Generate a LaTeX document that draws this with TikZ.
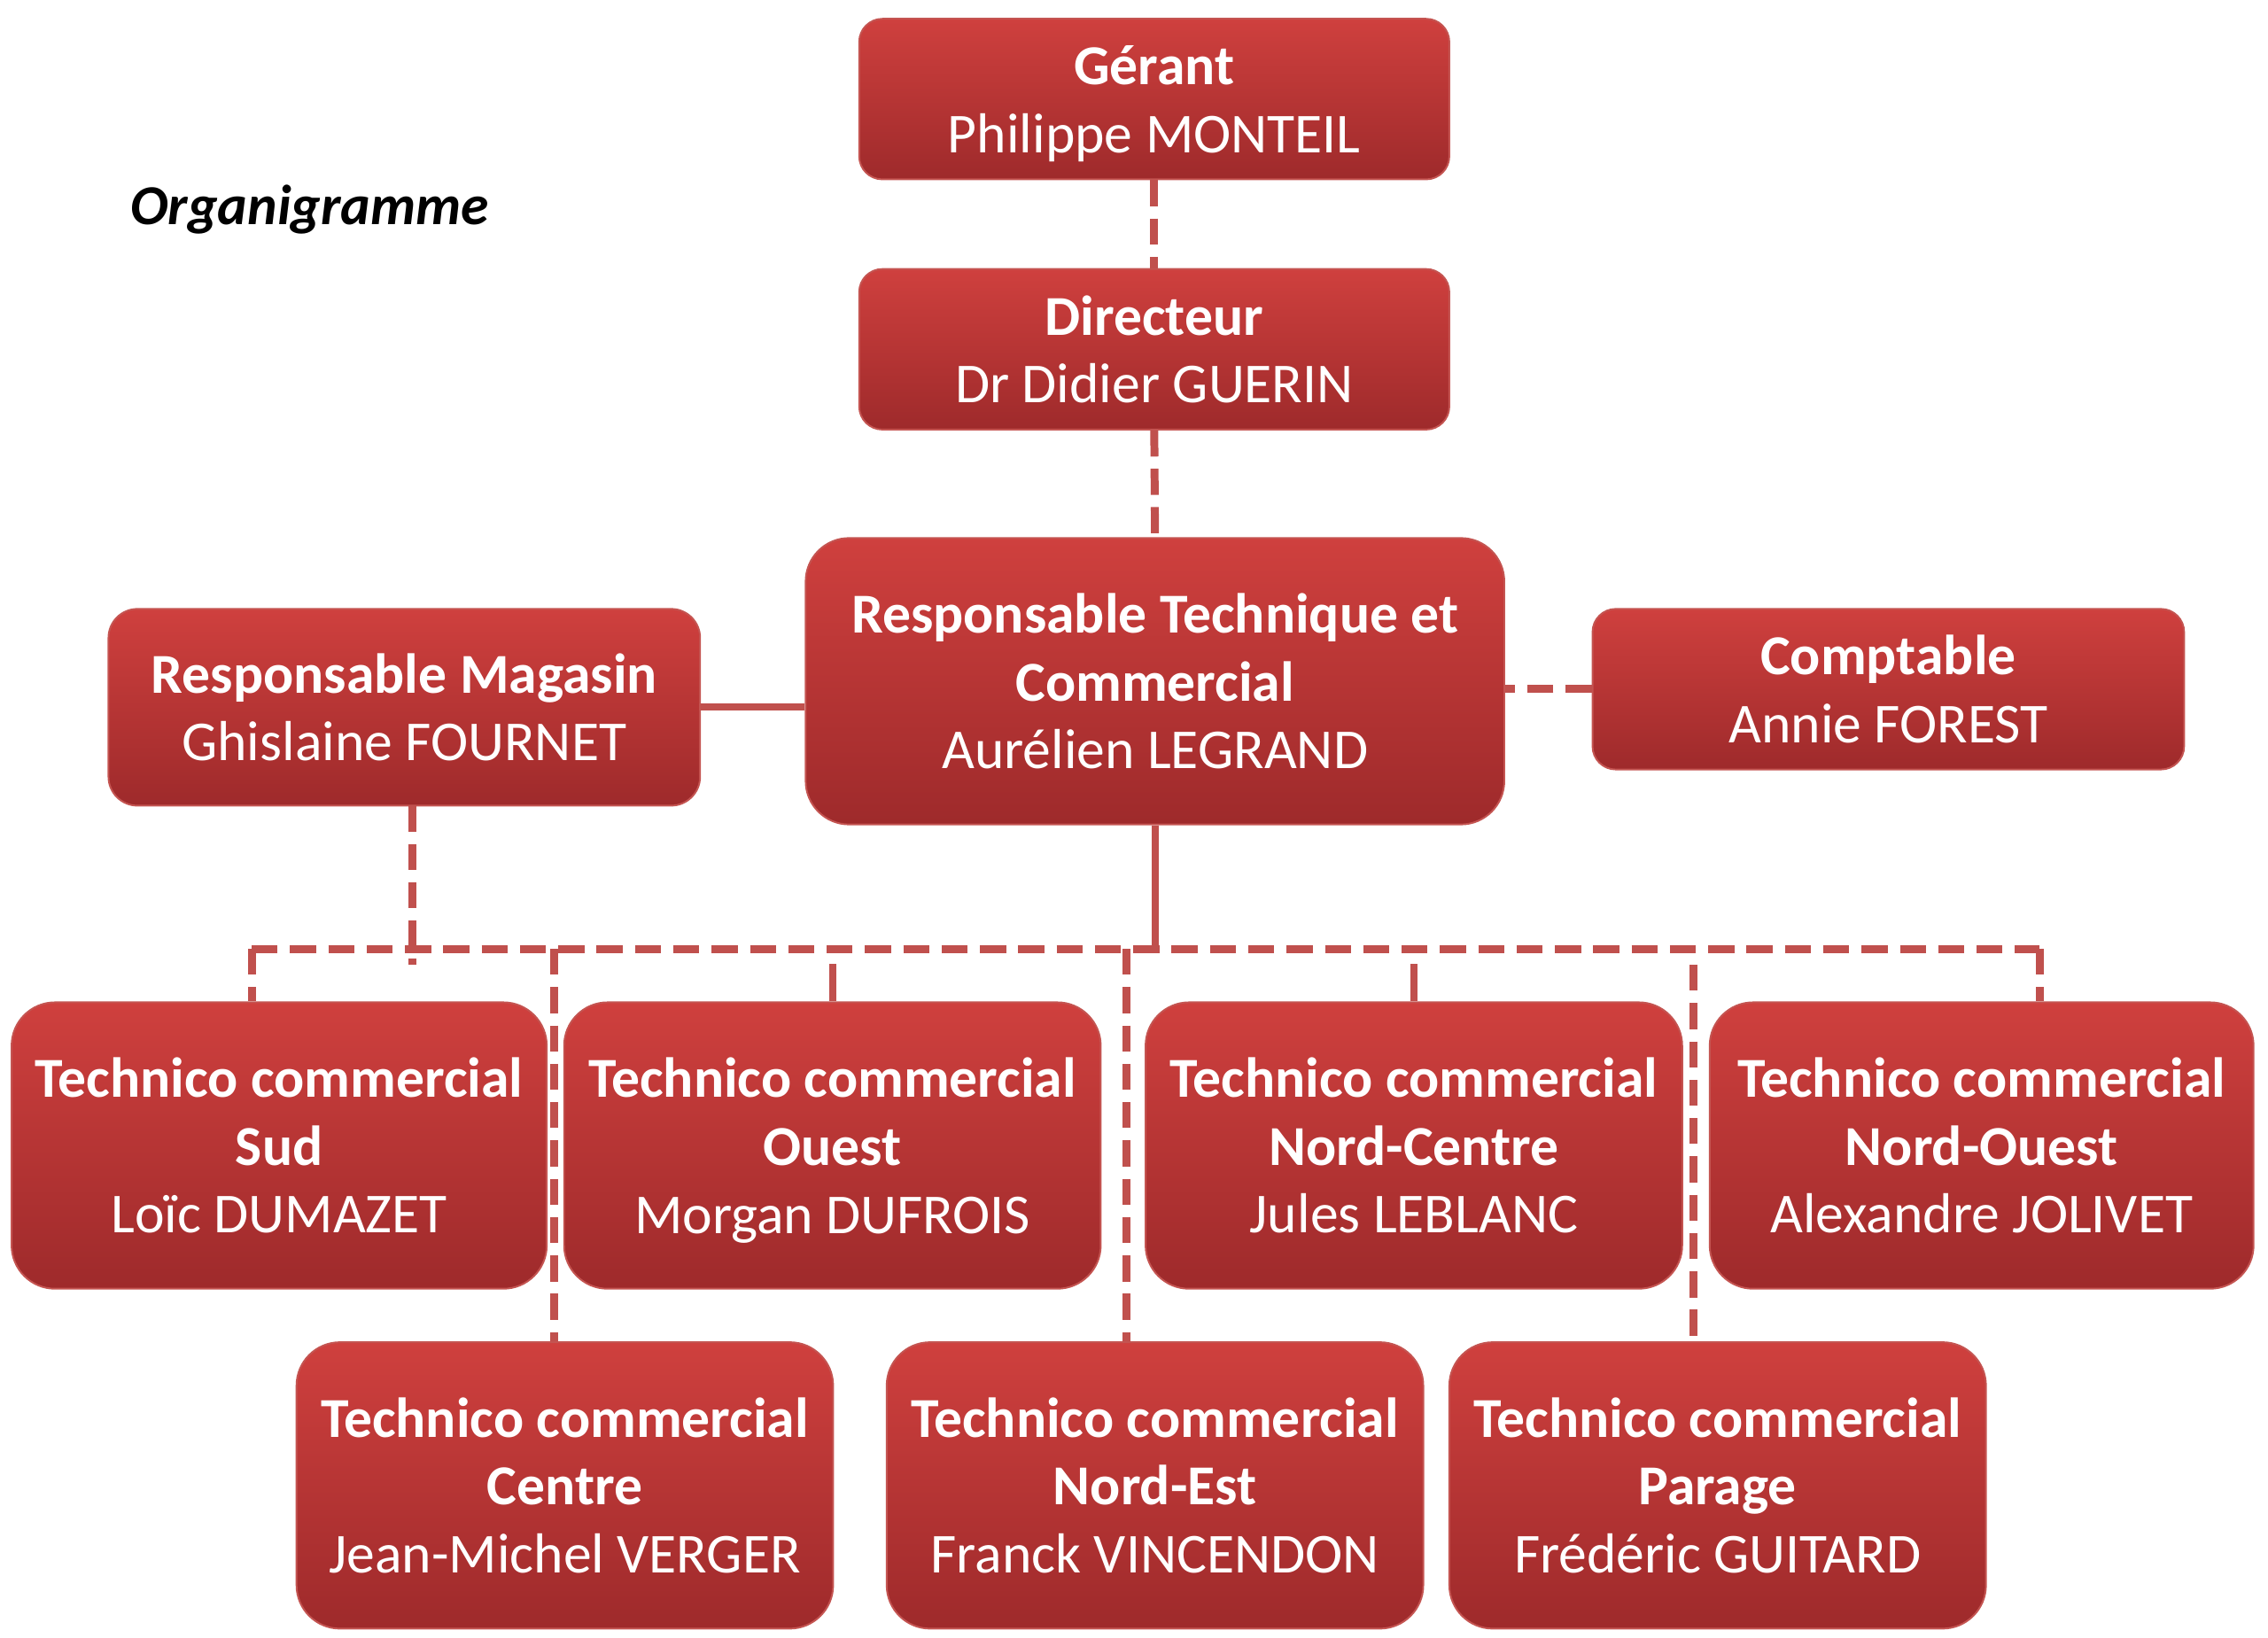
\documentclass[tikz,border=0pt]{standalone}
\usepackage{fontspec}
\setmainfont{Carlito}
\definecolor{boxtop}{RGB}{207,64,62}
\definecolor{boxbot}{RGB}{158,42,43}
\definecolor{boxedge}{RGB}{196,84,81}
\definecolor{linec}{RGB}{192,80,77}
\newcommand{\nodesc}[1]{\raisebox{0pt}[\height][0pt]{#1}}
\tikzset{
  box/.style={draw=boxedge, line width=1.2pt, top color=boxtop, bottom color=boxbot,
    text=white, align=center, inner sep=0pt, anchor=center,
    font=\fontsize{39}{47}\selectfont},
  smallbox/.style={box, rounded corners=16pt},
  bigbox/.style={box, rounded corners=30pt},
  dashline/.style={draw=linec, line width=5.5pt, dash pattern=on 18pt off 8.5pt},
  solidline/.style={draw=linec, line width=5pt},
}
\begin{document}
\begin{tikzpicture}[x=1pt,y=-1pt]
\useasboundingbox (0,0) rectangle (1568,1132.5);

% free ends of connectors
\coordinate (busL) at (174,656);
\coordinate (busR) at (1410,656);
\coordinate (magDrop) at (285,557);
\coordinate (cenTop) at (383,656);
\coordinate (neTop) at (779,656);
\coordinate (parTop) at (1171,667);

% nodes
\node[smallbox, minimum width=408pt, minimum height=111pt] (ger) at (798,68.5)
  {\bfseries Gérant\\\nodesc{Philippe MONTEIL}};
\node[smallbox, minimum width=408pt, minimum height=111pt] (dir) at (798,241.5)
  {\bfseries Directeur\\Dr Didier GUERIN};
\node[bigbox, minimum width=483pt, minimum height=198pt] (rtc) at (798.5,471)
  {\bfseries Responsable Technique et\\\bfseries Commercial\\Aurélien LEGRAND};
\node[smallbox, rounded corners=20pt, minimum width=409pt, minimum height=136pt] (mag) at (279.5,489)
  {\bfseries Responsable Magasin\\Ghislaine FOURNET};
\node[smallbox, minimum width=409pt, minimum height=111pt] (cpt) at (1305.5,476.5)
  {\bfseries Comptable\\Annie FOREST};

\node[bigbox, minimum width=370pt, minimum height=198pt] (sud) at (193,792)
  {\bfseries Technico commercial\\\bfseries Sud\\Loïc DUMAZET};
\node[bigbox, minimum width=371pt, minimum height=198pt] (oue) at (575.5,792)
  {\bfseries Technico commercial\\\bfseries Ouest\\\nodesc{Morgan DUFROIS}};
\node[bigbox, minimum width=371pt, minimum height=198pt] (nc) at (977.5,792)
  {\bfseries Technico commercial\\\bfseries Nord-Centre\\Jules LEBLANC};
\node[bigbox, minimum width=376pt, minimum height=198pt] (no) at (1370,792)
  {\bfseries Technico commercial\\\bfseries Nord-Ouest\\Alexandre JOLIVET};

\node[bigbox, minimum width=371pt, minimum height=198pt] (cen) at (390.5,1027)
  {\bfseries Technico commercial\\\bfseries Centre\\Jean-Michel VERGER};
\node[bigbox, minimum width=371pt, minimum height=198pt] (ne) at (798.5,1027)
  {\bfseries Technico commercial\\\bfseries Nord-Est\\Franck VINCENDON};
\node[bigbox, minimum width=371pt, minimum height=198pt] (par) at (1187.5,1027)
  {\bfseries Technico commercial\\\bfseries Parage\\Frédéric GUITARD};

\node[anchor=west, inner sep=0pt, font=\fontsize{39}{47}\selectfont\bfseries\itshape] (title) at (90,145) {Organigramme};

% connectors
\draw[dashline] (ger.south) -- (dir.north);
\draw[dashline] (dir.south) -- (rtc.north);
\draw[solidline] (mag.east) -- (mag.east -| rtc.west);
\draw[dashline] (cpt.west) -- (cpt.west -| rtc.east);
\draw[solidline] (rtc.south) -- (rtc.south |- busL);
\draw[dashline] (busL) -- (busR);
\draw[dashline] (magDrop) -- ++(0,110);
\draw[dashline] (busL) -- (busL |- sud.north);
\draw[dashline] (busR) -- (busR |- no.north);
\draw[solidline] (oue.north) -- ++(0,-26);
\draw[solidline] (nc.north) -- ++(0,-26);
\draw[dashline] (cenTop) -- (cenTop |- cen.north);
\draw[dashline] (neTop) -- (neTop |- ne.north);
\draw[dashline] (parTop) -- (parTop |- par.north);
\end{tikzpicture}
\end{document}
